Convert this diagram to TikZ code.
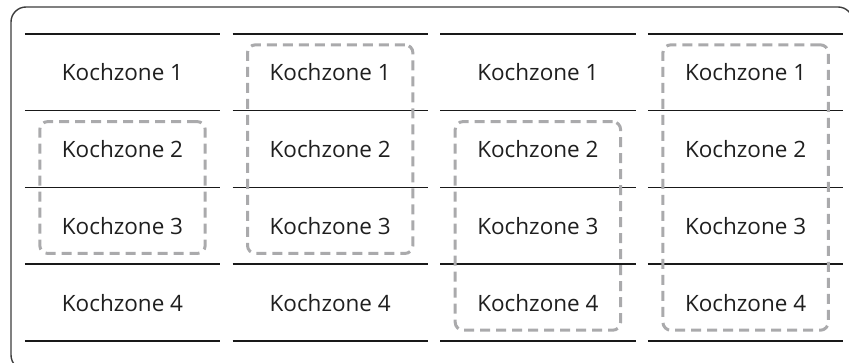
\documentclass[tikz,border=0pt]{standalone}
\usepackage{fontspec}
\setmainfont{Open Sans}
\usetikzlibrary{fit, positioning}
\definecolor{framegray}{RGB}{60,60,60}
\definecolor{zonegray}{RGB}{170,170,172}
\tikzset{
  cellbox/.style={rectangle, minimum width=195pt, minimum height=76.75pt, inner sep=0pt,
    font=\fontsize{22.5}{24}\selectfont, text=black!88},
  rowline/.style={line width=1.5pt, color=black!90},
  zonegroup/.style={rectangle, draw=zonegray, line width=3pt, dash pattern=on 10pt off 6pt,
    rounded corners=8pt, inner xsep=-15pt, inner ysep=-11pt},
  framebox/.style={draw=framegray, line width=1.4pt, rounded corners=15pt}
}
\begin{document}
\begin{tikzpicture}[x=1pt, y=-1pt]
  \useasboundingbox (0,0) rectangle (849,363);
  \clip (0,0) rectangle (849,363);
  % outer frame, cut by the page edge
  \draw[framebox] (11,7) rectangle (853,370);

  % cooking zones, column by column
  \foreach \c in {1,...,4} {
    \foreach \r in {1,...,4} {
      \node[cellbox] (c\c\r) at ({122.5+207.7*(\c-1)}, {72.4+76.75*(\r-1)}) {Kochzone \r};
      \draw[rowline] (c\c\r.north west) -- (c\c\r.north east);
    }
    \draw[rowline] (c\c4.south west) -- (c\c4.south east);
  }

  % groups of linked zones
  \node[zonegroup, fit=(c12)(c13)] (g1) {};
  \node[zonegroup, fit=(c21)(c23)] (g2) {};
  \node[zonegroup, fit=(c32)(c34)] (g3) {};
  \node[zonegroup, fit=(c41)(c44)] (g4) {};
\end{tikzpicture}
\end{document}
